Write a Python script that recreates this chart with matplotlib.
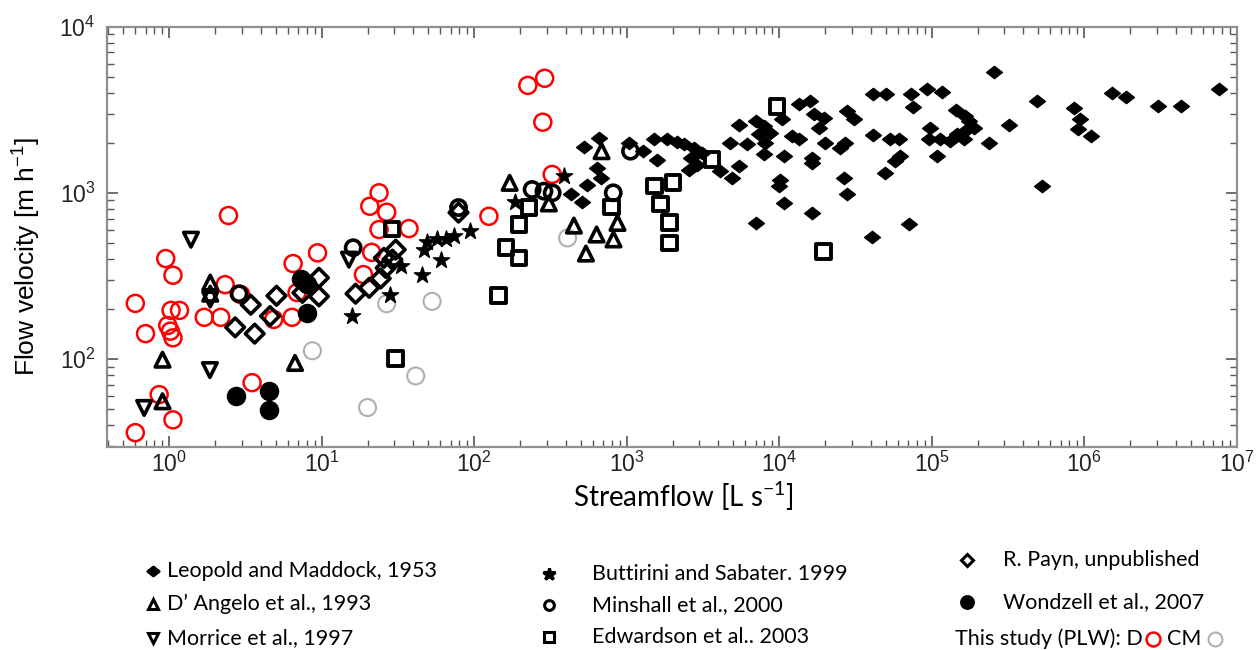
import numpy as np
import matplotlib
matplotlib.use('Agg')
import matplotlib.pyplot as plt
from matplotlib.path import Path
from matplotlib.lines import Line2D
from matplotlib.ticker import LogLocator, NullFormatter

plt.rcParams['font.family'] = ['Liberation Sans', 'DejaVu Sans']
plt.rcParams['mathtext.default'] = 'regular'
LEG_FONT = ['Lato', 'DejaVu Sans']

# ---- data (streamflow L/s, velocity m/h) ----
plw_d_q = [2.45, 0.95, 1.06, 0.60, 1.03, 1.17, 0.70, 0.98, 1.02, 1.06, 1.70, 2.18,
           2.33, 6.5, 6.4, 3.5, 0.86, 1.06, 0.60, 9.4, 23.8, 20.7, 26.7, 23.8,
           37.4, 18.8, 21.3, 125, 225, 290, 282, 325, 2.95, 6.9, 4.85]
plw_d_v = [730, 402, 319, 216, 196, 196, 142, 159, 147, 134, 178, 178,
           280, 375, 178, 72, 61, 43, 36, 435, 1000, 830, 764, 601,
           609, 322, 438, 722, 4430, 4890, 2660, 1290, 244, 251, 173]

plw_cm_q = [8.7, 20, 26.7, 53, 41.4, 410]
plw_cm_v = [112, 51, 215, 222, 79, 535]

leopold_q = [429, 512, 525, 658, 641, 675, 552, 1029, 1271, 1507, 1845, 2123,
             1585, 2371, 2754, 3126, 2624, 2901, 2556, 4121, 4920, 5433, 4797,
             5433, 6166, 6998, 7345, 7925, 8770, 8128, 7925, 10470, 13430, 16030,
             16870, 19600, 18190, 10720, 12160, 13430, 20100, 16440, 16440, 27200,
             25230, 27900, 30830, 10200, 9940, 10720, 6998, 16440, 26500, 27900,
             41300, 50470, 73280, 75510, 93300, 117000, 254700, 491000, 145200,
             166300, 174800, 188400, 166300, 146700, 132700, 114000, 98100, 95500,
             108400, 162200, 236400, 319800, 41300, 53600, 60800, 61700, 57800,
             49770, 528600, 70660, 40650, 853000, 933000, 906000, 1114000,
             1521000, 1888000, 3027000, 4327000, 7603000]
leopold_v = [977, 875, 1875, 2123, 1416, 1236, 1107, 1982, 1782, 2094, 2094, 2023,
             1567, 1954, 1866, 1742, 1626, 1479, 1381, 1350, 1231, 1445, 2000,
             2576, 1954, 2698, 2244, 2518, 2296, 2000, 1702, 2768, 3404, 3565,
             2965, 2830, 2466, 1660, 2193, 2094, 2000, 1626, 1517, 2000,
             1866, 3104, 2768, 1202, 1098, 871, 660, 759, 1231, 977,
             3908, 3908, 3945, 3281, 4236, 4036, 5358, 3565, 3133,
             2891, 2698, 2466, 2350, 2244, 2046, 2094, 2466, 2094,
             1660, 2094, 2000, 2553, 2213, 2094, 2094, 1660, 1549,
             1318, 1098, 653, 543, 3221, 2793, 2432, 2193,
             4000, 3767, 3327, 3327, 4236]

dangelo_q = [1.86, 1.86, 0.905, 0.905, 6.69, 171, 309, 451, 541, 635, 820, 871, 685]
dangelo_v = [288, 247, 99, 55.6, 94.6, 1148, 863, 635, 431, 561, 524, 659, 1780]

morrice_q = [1.39, 1.85, 0.686, 1.86, 15.1]
morrice_v = [522, 85.7, 50.7, 228, 396]

butt_q = [15.9, 27.9, 33, 45.8, 60.3, 46.9, 49.4, 56.8, 65, 73.8, 93.5, 184, 386]
butt_v = [181, 244, 361, 318, 396, 455, 509, 524, 524, 548, 585, 875, 1254]

minshall_q = [2.87, 16.1, 79, 240, 287, 325, 817, 1060]
minshall_v = [247, 467, 815, 1047, 1023, 1000, 1000, 1780]

edw_q = [29, 30.6, 145, 162, 197, 197, 229, 796, 1524, 2014, 1667, 1910, 1910,
         9700, 3640, 19600]
edw_v = [605, 101, 240, 467, 406, 644, 813, 820, 1097, 1153, 857, 662, 500,
         3296, 1585, 445]

payn_q = [3.43, 5.06, 2.71, 3.64, 4.59, 7.48, 9.6, 9.6, 16.7, 20.5, 24.4, 26.3,
          25.6, 30.6, 29.1, 79]
payn_v = [212, 240, 155, 142, 181, 250, 308, 238, 247, 268, 305, 353,
          406, 455, 396, 760]

wond_q = [2.74, 4.52, 4.52, 8.07, 7.3, 7.98]
wond_v = [60.1, 63.8, 49.5, 189, 301, 284]

# flat filled diamond
flat_diamond = Path([(-1, 0), (0, 0.78), (1, 0), (0, -0.78), (-1, 0)],
                    [Path.MOVETO, Path.LINETO, Path.LINETO, Path.LINETO, Path.CLOSEPOLY])

W, H = 1256, 650
fig = plt.figure(figsize=(W / 100, H / 100), dpi=100)
ax = fig.add_axes([0.085, 0.313, 0.8996, 0.646])

ax.scatter(plw_d_q, plw_d_v, s=150, facecolors='none', edgecolors='#ff0000', linewidths=1.8, zorder=2)
ax.scatter(plw_cm_q, plw_cm_v, s=150, facecolors='none', edgecolors='#b0b0b0', linewidths=1.5, zorder=2)

ax.scatter(leopold_q, leopold_v, s=130, marker=flat_diamond, color='black', zorder=3)
ax.scatter(dangelo_q, dangelo_v, s=110, marker='^', facecolors='none', edgecolors='black', linewidths=2.6, zorder=3)
ax.scatter(morrice_q, morrice_v, s=110, marker='v', facecolors='none', edgecolors='black', linewidths=2.6, zorder=3)
ax.scatter(butt_q, butt_v, s=150, marker='*', color='black', zorder=3)
ax.scatter(minshall_q, minshall_v, s=120, marker='o', facecolors='none', edgecolors='black', linewidths=2.6, zorder=3)
ax.scatter(edw_q, edw_v, s=110, marker='s', facecolors='none', edgecolors='black', linewidths=2.8, zorder=3)
ax.scatter(payn_q, payn_v, s=90, marker='D', facecolors='none', edgecolors='black', linewidths=2.6, zorder=3)
ax.scatter(wond_q, wond_v, s=170, marker='o', color='black', zorder=3)

ax.set_xscale('log')
ax.set_yscale('log')
ax.set_xlim(0.39, 1e7)
ax.set_ylim(29.7, 1e4)

ax.xaxis.set_major_locator(LogLocator(base=10, numticks=20))
ax.xaxis.set_minor_locator(LogLocator(base=10, subs=np.arange(2, 10), numticks=20))
ax.xaxis.set_minor_formatter(NullFormatter())
ax.yaxis.set_minor_formatter(NullFormatter())
ax.tick_params(which='both', direction='in', top=True, right=True, colors='#555555',
               labelcolor='#222222', labelsize=16.5)
ax.tick_params(which='major', length=8, width=1.2)
ax.tick_params(axis='x', which='major', pad=4)
ax.tick_params(axis='y', which='major', pad=8)
ax.tick_params(which='minor', length=5, width=1.0)
for sp in ax.spines.values():
    sp.set_color('#909090')
    sp.set_linewidth(1.6)

ax.set_xlabel('Streamflow [L s$^{-1}$]', fontsize=20, family=LEG_FONT, va='center')
ax.set_ylabel('Flow velocity [m h$^{-1}$]', fontsize=19, va='center')
ax.xaxis.set_label_coords(0.51, -0.118)
ax.yaxis.set_label_coords(-0.071, 0.452)


# ---- legend below the axes (pixel coordinates, y from top) ----
def fx(px):
    return px / W


def fy(py):
    return 1 - py / H


def leg_marker(x, y, marker, fc, ec, ms, mew=2.2):
    fig.add_artist(Line2D([fx(x)], [fy(y)], transform=fig.transFigure, marker=marker,
                          markersize=ms, markerfacecolor=fc, markeredgecolor=ec,
                          markeredgewidth=mew, linestyle='none'))


entries = [
    (153, 571, 167, flat_diamond, 'black', 'black', 8, 'Leopold and Maddock, 1953'),
    (153, 604, 167, '^', 'none', 'black', 7, 'D\u2019 Angelo et al., 1993'),
    (153, 638, 167, 'v', 'none', 'black', 7, 'Morrice et al., 1997'),
    (549, 574, 592, '*', 'black', 'black', 9, 'Buttirini and Sabater. 1999'),
    (549, 605, 592, 'o', 'none', 'black', 7, 'Minshall et al., 2000'),
    (549, 637, 592, 's', 'none', 'black', 7, 'Edwardson et al.. 2003'),
    (967, 560, 1003, 'D', 'none', 'black', 6.5, 'R. Payn, unpublished'),
    (967, 602, 1003, 'o', 'black', 'black', 8.5, 'Wondzell et al., 2007'),
]
for x, y, tx, m, fc, ec, ms, label in entries:
    leg_marker(x, y, m, fc, ec, ms)
    fig.text(fx(tx), fy(y), label, fontsize=15.5, va='center', ha='left', family=LEG_FONT)

renderer = fig.canvas.get_renderer()
t1 = fig.text(fx(955), fy(639), 'This study (PLW): D', fontsize=15.5, va='center', ha='left',
              family=LEG_FONT)
x_end = t1.get_window_extent(renderer).x1
leg_marker(x_end + 10, 639, 'o', 'none', '#ff0000', 10, 1.8)
t2 = fig.text(fx(x_end + 24), fy(639), 'CM', fontsize=15.5, va='center', ha='left', family=LEG_FONT)
x_end2 = t2.get_window_extent(renderer).x1
leg_marker(x_end2 + 14, 639, 'o', 'none', '#b0b0b0', 10, 1.5)

fig.savefig('out.png', dpi=100)
